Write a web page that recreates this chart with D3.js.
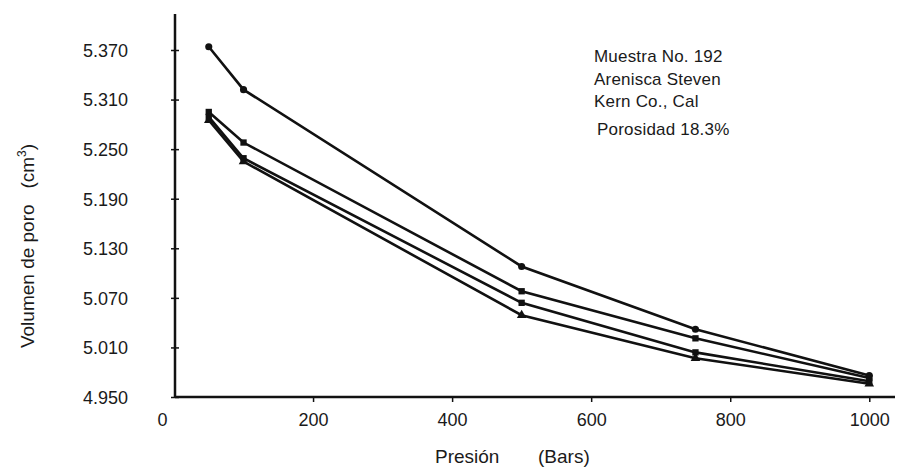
<!DOCTYPE html>
<html><head><meta charset="utf-8">
<script src="https://cdn.jsdelivr.net/npm/d3@7"></script>
<style>
html,body{margin:0;padding:0;background:#fff;}
svg text{font-family:"Liberation Sans",Arial,sans-serif;fill:#1a1a1a;}
</style></head>
<body>
<svg id="c" width="899" height="468"></svg>
<script>
// Data
const pressures = [50, 100, 500, 750, 1000];
const serieA = [5.374, 5.322, 5.108, 5.032, 4.976];
const serieB = [5.295, 5.258, 5.078, 5.021, 4.973];
const serieC = [5.289, 5.239, 5.064, 5.004, 4.969];
const serieD = [5.285, 5.235, 5.049, 4.997, 4.966];
const yTicks = [4.950, 5.010, 5.070, 5.130, 5.190, 5.250, 5.310, 5.370];
const xTicks = [0, 200, 400, 600, 800, 1000];
const notes = ["Muestra No. 192", "Arenisca Steven", "Kern Co., Cal", "Porosidad 18.3%"];

const svg = d3.select("#c");
const x = d3.scaleLinear().domain([0, 1037]).range([174, 895]);
const y = d3.scaleLinear().domain([4.95, 5.37]).range([397, 50]);

// Y axis
const yAxis = svg.append("g").attr("transform", `translate(${175},0)`)
  .call(d3.axisLeft(y).tickValues(yTicks).tickFormat(d3.format(".3f")).tickSize(4).tickPadding(44));
yAxis.select(".domain").remove();
yAxis.selectAll(".tick line").attr("x2", 4).attr("x1", -4).attr("stroke", "#111").attr("stroke-width", 1.5);
yAxis.selectAll(".tick text").attr("font-size", 18).attr("text-anchor", "end").attr("x", -47).attr("dy", "0.35em");
svg.append("line").attr("x1", 175).attr("x2", 175).attr("y1", 14).attr("y2", y(4.95))
  .attr("stroke", "#111").attr("stroke-width", 2.5);

// X axis
const xAxis = svg.append("g").attr("transform", `translate(0,${y(4.95)})`)
  .call(d3.axisBottom(x).tickValues(xTicks).tickFormat(d3.format("d")).tickSize(5).tickPadding(11));
xAxis.select(".domain").remove();
xAxis.selectAll(".tick line").attr("stroke", "#111").attr("stroke-width", 1.5)
  .filter(d => d === 0).remove();
xAxis.selectAll(".tick text").attr("font-size", 18)
  .attr("dx", d => d === 0 ? -12 : 0);
svg.append("line").attr("x1", 175).attr("x2", 895).attr("y1", y(4.95)).attr("y2", y(4.95))
  .attr("stroke", "#111").attr("stroke-width", 2.5);

// Lines
const series = [serieA, serieB, serieC, serieD];
const symbols = [d3.symbolCircle, d3.symbolSquare, d3.symbolSquare, d3.symbolTriangle];
const line = d3.line().x((d, i) => x(pressures[i])).y(d => y(d));
series.forEach((s, k) => {
  svg.append("path").datum(s).attr("d", line).attr("fill", "none")
    .attr("stroke", "#111").attr("stroke-width", 2.6);
  svg.append("g").selectAll("path").data(s).join("path")
    .attr("transform", (d, i) => `translate(${x(pressures[i])},${y(d)})`)
    .attr("d", d3.symbol().type(symbols[k]).size(40))
    .attr("fill", "#111");
});

// Axis titles
svg.append("text").attr("x", 435).attr("y", 463).attr("font-size", 19).text("Presión");
svg.append("text").attr("x", 538).attr("y", 463).attr("font-size", 19).text("(Bars)");
const yt = svg.append("text").attr("transform", "translate(34,246) rotate(-90)")
  .attr("text-anchor", "middle").attr("font-size", 19).attr("xml:space", "preserve");
yt.append("tspan").text("Volumen de poro   (cm");
yt.append("tspan").attr("dy", -8).attr("font-size", 12).text("3");
yt.append("tspan").attr("dy", 8).text(")");

// Annotation
const nx = [594, 594, 594, 597];
const ny = [62, 85, 107, 135];
notes.forEach((t, i) => {
  svg.append("text").attr("x", nx[i]).attr("y", ny[i]).attr("font-size", 17)
    .attr("letter-spacing", 0.2).text(t);
});
</script>
</body></html>
